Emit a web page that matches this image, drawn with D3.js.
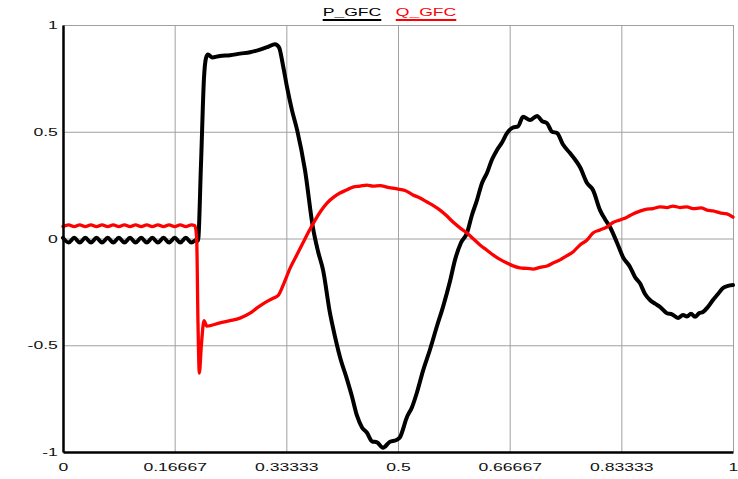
<!DOCTYPE html>
<html>
<head>
<meta charset="utf-8">
<script src="https://cdn.jsdelivr.net/npm/d3@7"></script>
<style>
  body { margin: 0; background: #fff; }
  svg { display: block; }
</style>
</head>
<body>
<div id="chart"></div>
<script>
// series names / colours
const seriesNames = ['P_GFC', 'Q_GFC'];
const seriesColors = ['#000000', '#ff0000'];

// tick positions and labels
const xTicks = [0, 1 / 6, 2 / 6, 3 / 6, 4 / 6, 5 / 6, 1];
const xTickLabels = ['0', '0.16667', '0.33333', '0.5', '0.66667', '0.83333', '1'];
const yTicks = [-1, -0.5, 0, 0.5, 1];
const yTickLabels = ['-1', '-0.5', '0', '0.5', '1'];

// P_GFC: [time, value]
const pGfc = [
  [0, 0.003], [0.0083, -0.019], [0.0167, 0.003], [0.025, -0.019], [0.0333, 0.003],
  [0.0417, -0.019], [0.05, 0.003], [0.0583, -0.019], [0.0667, 0.003], [0.075, -0.019],
  [0.0833, 0.003], [0.0917, -0.019], [0.1, 0.003], [0.1083, -0.019], [0.1167, 0.003],
  [0.125, -0.019], [0.1333, 0.003], [0.1417, -0.019], [0.15, 0.003], [0.1583, -0.019],
  [0.1667, 0.003], [0.175, -0.019], [0.1833, 0.003], [0.1917, -0.019], [0.2, -0.005],
  [0.2015, -0.01], [0.206, 0.35], [0.2104, 0.75], [0.2134, 0.845], [0.2164, 0.862],
  [0.2224, 0.848], [0.2343, 0.855], [0.2493, 0.858], [0.2642, 0.866], [0.2791, 0.872],
  [0.294, 0.885], [0.306, 0.898], [0.3164, 0.91], [0.3224, 0.895], [0.3284, 0.81],
  [0.3343, 0.71], [0.3418, 0.6], [0.3493, 0.51], [0.3612, 0.32], [0.3731, 0.05],
  [0.3806, -0.06], [0.3881, -0.147], [0.3985, -0.35], [0.406, -0.46], [0.4134, -0.555],
  [0.4239, -0.66], [0.4313, -0.74], [0.4388, -0.83], [0.4463, -0.885], [0.4537, -0.91],
  [0.4612, -0.95], [0.4687, -0.955], [0.4776, -0.98], [0.488, -0.952], [0.497, -0.945],
  [0.503, -0.93], [0.5134, -0.836], [0.5209, -0.79], [0.5284, -0.72], [0.5373, -0.62],
  [0.5478, -0.52], [0.5582, -0.41], [0.5672, -0.32], [0.5776, -0.2], [0.5851, -0.1],
  [0.594, -0.02], [0.603, 0.026], [0.6104, 0.11], [0.6179, 0.18], [0.6254, 0.26],
  [0.6328, 0.307], [0.6403, 0.37], [0.6478, 0.415], [0.6552, 0.45], [0.6627, 0.494],
  [0.6716, 0.52], [0.6791, 0.525], [0.6866, 0.57], [0.697, 0.555], [0.7075, 0.574],
  [0.7149, 0.55], [0.7224, 0.54], [0.7299, 0.5], [0.7373, 0.494], [0.7463, 0.44],
  [0.7567, 0.4], [0.7642, 0.37], [0.7716, 0.335], [0.7821, 0.26], [0.791, 0.227],
  [0.8015, 0.133], [0.809, 0.09], [0.8164, 0.054], [0.8269, -0.02], [0.8358, -0.087],
  [0.8463, -0.133], [0.8537, -0.18], [0.8612, -0.21], [0.8687, -0.26], [0.8761, -0.288],
  [0.8836, -0.305], [0.891, -0.32], [0.9015, -0.35], [0.909, -0.355], [0.9179, -0.372],
  [0.9254, -0.358], [0.9313, -0.365], [0.9373, -0.352], [0.9433, -0.367], [0.9493, -0.35],
  [0.9552, -0.344], [0.9627, -0.32], [0.9701, -0.288], [0.9776, -0.26], [0.9851, -0.232],
  [0.9925, -0.222], [1.0, -0.218]
];

// Q_GFC: [time, value]
const qGfc = [
  [0, 0.056], [0.0083, 0.064], [0.0167, 0.056], [0.025, 0.064], [0.0333, 0.056],
  [0.0417, 0.064], [0.05, 0.056], [0.0583, 0.064], [0.0667, 0.056], [0.075, 0.064],
  [0.0833, 0.056], [0.0917, 0.064], [0.1, 0.056], [0.1083, 0.064], [0.1167, 0.056],
  [0.125, 0.064], [0.1333, 0.056], [0.1417, 0.064], [0.15, 0.056], [0.1583, 0.064],
  [0.1667, 0.056], [0.175, 0.064], [0.1833, 0.056], [0.1917, 0.064], [0.197, 0.06],
  [0.1995, 0.0], [0.2015, -0.4], [0.2035, -0.63], [0.2065, -0.5], [0.2105, -0.385],
  [0.2145, -0.41], [0.2343, -0.395], [0.2493, -0.385], [0.2642, -0.373], [0.2791, -0.35],
  [0.2896, -0.325], [0.3015, -0.3], [0.3134, -0.28], [0.3209, -0.268], [0.3284, -0.22],
  [0.3388, -0.14], [0.3493, -0.075], [0.3582, -0.02], [0.3672, 0.035], [0.3761, 0.085],
  [0.3851, 0.13], [0.394, 0.166], [0.4045, 0.195], [0.4134, 0.213], [0.4239, 0.228],
  [0.4328, 0.241], [0.4433, 0.245], [0.4537, 0.25], [0.4627, 0.245], [0.4731, 0.248],
  [0.4851, 0.24], [0.4985, 0.232], [0.5104, 0.225], [0.5224, 0.204], [0.5328, 0.19],
  [0.5433, 0.171], [0.5522, 0.155], [0.5627, 0.133], [0.5731, 0.105], [0.5821, 0.077],
  [0.5925, 0.05], [0.603, 0.026], [0.6119, 0.0], [0.6224, -0.03], [0.6328, -0.055],
  [0.6418, -0.077], [0.6522, -0.098], [0.6627, -0.115], [0.6716, -0.128], [0.6821, -0.138],
  [0.6925, -0.14], [0.7015, -0.143], [0.7119, -0.135], [0.7224, -0.129], [0.7313, -0.115],
  [0.7418, -0.1], [0.7522, -0.08], [0.7612, -0.063], [0.7716, -0.03], [0.7821, -0.007],
  [0.791, 0.026], [0.8015, 0.04], [0.8119, 0.054], [0.8209, 0.075], [0.8313, 0.087],
  [0.8418, 0.1], [0.8507, 0.115], [0.8612, 0.128], [0.8716, 0.138], [0.8806, 0.14],
  [0.891, 0.148], [0.9015, 0.145], [0.9104, 0.152], [0.9209, 0.145], [0.9313, 0.148],
  [0.9403, 0.14], [0.9522, 0.143], [0.9612, 0.133], [0.9701, 0.129], [0.9806, 0.12],
  [0.991, 0.115], [1.0, 0.1]
];

const width = 738;
const height = 479;
const margin = { top: 25, right: 5, bottom: 27, left: 63 };
const innerW = width - margin.left - margin.right;
const innerH = height - margin.top - margin.bottom;
const fontFamily = '"Liberation Sans", Arial, sans-serif';
const stretch = 'scale(1.6,1)'; // the labels in the picture are drawn wide

const svg = d3.select('#chart')
  .append('svg')
  .attr('width', width)
  .attr('height', height);

const g = svg.append('g')
  .attr('transform', `translate(${margin.left},${margin.top})`);

const x = d3.scaleLinear().domain([0, 1]).range([0, innerW]);
const y = d3.scaleLinear().domain([-1, 1]).range([innerH, 0]);

// grid
g.append('g')
  .attr('class', 'grid-x')
  .attr('transform', `translate(0,${innerH})`)
  .call(d3.axisBottom(x).tickValues(xTicks).tickSize(-innerH).tickFormat(''))
  .call(s => s.select('.domain').remove())
  .selectAll('line')
  .attr('stroke', '#a0a0a0')
  .attr('stroke-width', 1);

g.append('g')
  .attr('class', 'grid-y')
  .call(d3.axisLeft(y).tickValues(yTicks).tickSize(-innerW).tickFormat(''))
  .call(s => s.select('.domain').remove())
  .selectAll('line')
  .attr('stroke', '#a0a0a0')
  .attr('stroke-width', 1);

// lines
const line = d3.line()
  .x(d => x(d[0]))
  .y(d => y(d[1]))
  .curve(d3.curveMonotoneX);

[pGfc, qGfc].forEach((data, i) => {
  g.append('path')
    .datum(data)
    .attr('fill', 'none')
    .attr('stroke', seriesColors[i])
    .attr('stroke-width', i === 0 ? 4 : 3.3)
    .attr('stroke-linejoin', 'round')
    .attr('stroke-linecap', 'round')
    .attr('d', line);
});

// axes
const xAxis = g.append('g')
  .attr('transform', `translate(0,${innerH})`)
  .call(d3.axisBottom(x).tickValues(xTicks).tickSize(0)
    .tickFormat((d, i) => xTickLabels[i]));
xAxis.select('.domain').attr('stroke', '#000').attr('stroke-width', 2.5);
xAxis.selectAll('text')
  .attr('y', 11)
  .attr('transform', stretch)
  .style('font-family', fontFamily)
  .style('font-size', '11px')
  .attr('fill', '#111');

const yAxis = g.append('g')
  .call(d3.axisLeft(y).tickValues(yTicks).tickSize(0)
    .tickFormat((d, i) => yTickLabels[i]));
yAxis.select('.domain').attr('stroke', '#000').attr('stroke-width', 2.5);
yAxis.selectAll('text')
  .attr('x', -3.2)
  .attr('transform', stretch)
  .style('font-family', fontFamily)
  .style('font-size', '11px')
  .attr('fill', '#111');

// legend
const legendCenters = [352, 426];
seriesNames.forEach((name, i) => {
  const item = svg.append('g')
    .attr('transform', `translate(${legendCenters[i]},0)`);
  const txt = item.append('text')
    .attr('x', 0)
    .attr('y', 16.5)
    .attr('text-anchor', 'middle')
    .attr('transform', stretch)
    .style('font-family', fontFamily)
    .style('font-size', '11px')
    .attr('fill', seriesColors[i])
    .text(name);
  const w = txt.node().getComputedTextLength() * 1.6;
  item.append('line')
    .attr('x1', -w / 2)
    .attr('x2', w / 2)
    .attr('y1', 20)
    .attr('y2', 20)
    .attr('stroke', seriesColors[i])
    .attr('stroke-width', 2);
});
</script>
</body>
</html>
